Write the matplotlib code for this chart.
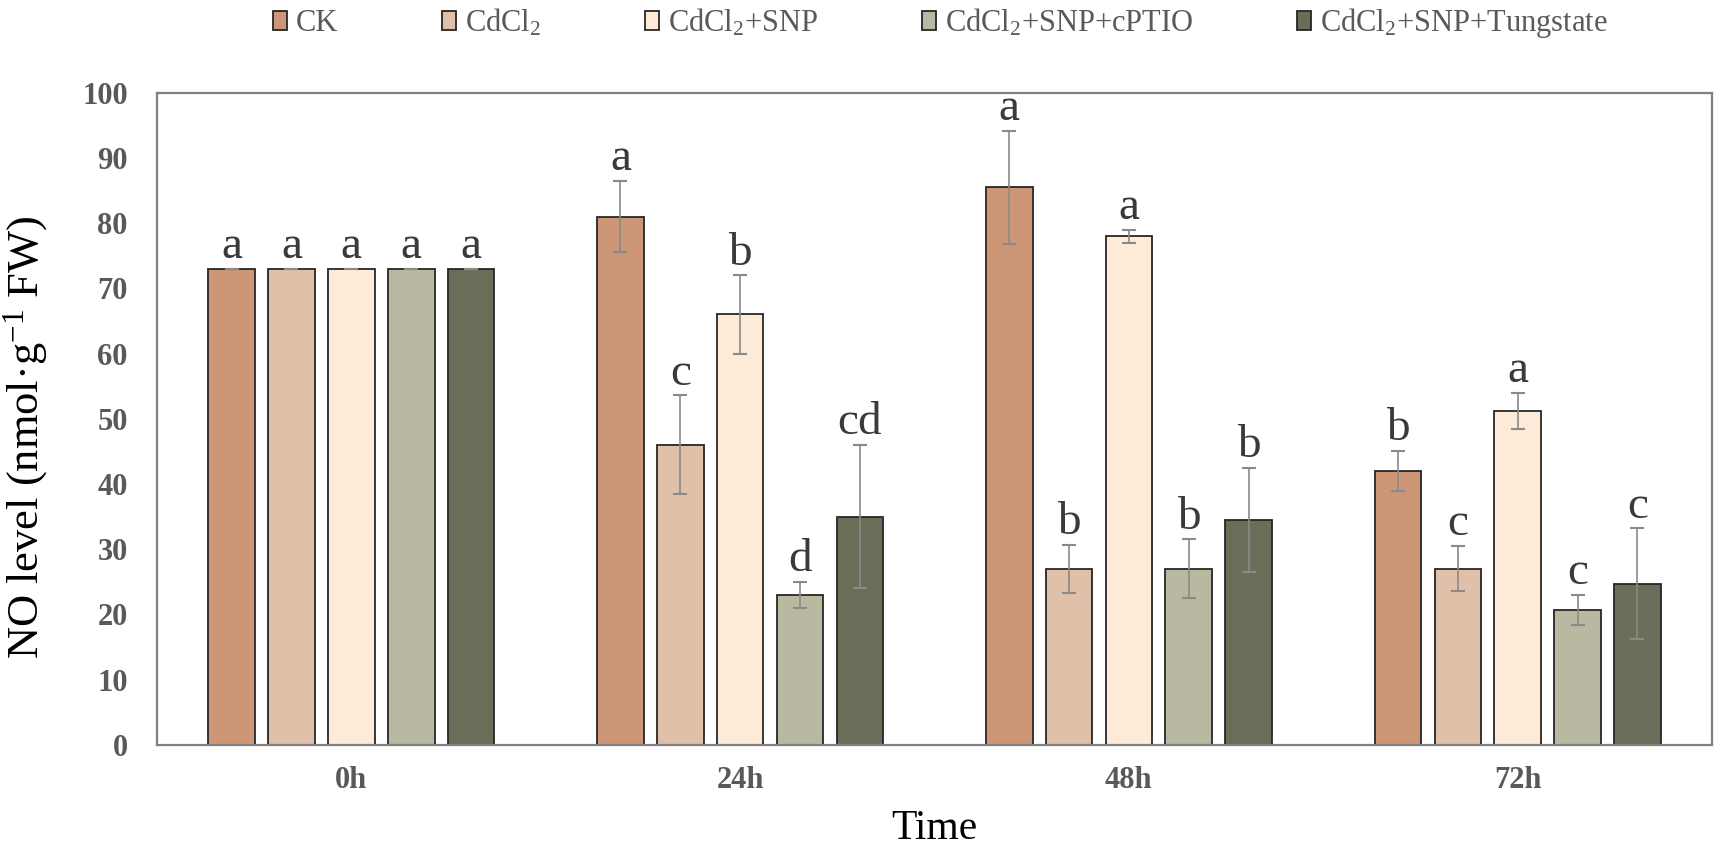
import numpy as np
import matplotlib
matplotlib.use("Agg")
import matplotlib.pyplot as plt

plt.rcParams['font.family'] = ['Liberation Serif', 'DejaVu Serif']
plt.rcParams['mathtext.fontset'] = 'custom'
plt.rcParams['mathtext.rm'] = 'Liberation Serif'
plt.rcParams['mathtext.it'] = 'Liberation Serif'

times = ['0h', '24h', '48h', '72h']
treatments = ['CK', 'CdCl$_2$', 'CdCl$_2$+SNP', 'CdCl$_2$+SNP+cPTIO', 'CdCl$_2$+SNP+Tungstate']
colors = ['#CD9677', '#E0C0A8', '#FDEBD8', '#B9B8A0', '#6A6E58']

# NO level per treatment, one value per time point
ck = [73, 81, 85.5, 42]
cd = [73, 46, 27, 27]
cd_snp = [73, 66, 78, 51.2]
cd_snp_cptio = [73, 23, 27, 20.7]
cd_snp_tung = [73, 35, 34.5, 24.7]

ck_err = [0, 5.5, 8.7, 3.1]
cd_err = [0, 7.6, 3.7, 3.5]
cd_snp_err = [0, 6.0, 1.0, 2.8]
cd_snp_cptio_err = [0, 2.0, 4.5, 2.3]
cd_snp_tung_err = [0, 11.0, 8.0, 8.5]

ck_sig = ['a', 'a', 'a', 'b']
cd_sig = ['a', 'c', 'b', 'c']
cd_snp_sig = ['a', 'b', 'a', 'a']
cd_snp_cptio_sig = ['a', 'd', 'b', 'c']
cd_snp_tung_sig = ['a', 'cd', 'b', 'c']

means = [ck, cd, cd_snp, cd_snp_cptio, cd_snp_tung]
errs = [ck_err, cd_err, cd_snp_err, cd_snp_cptio_err, cd_snp_tung_err]
sigs = [ck_sig, cd_sig, cd_snp_sig, cd_snp_cptio_sig, cd_snp_tung_sig]

fig = plt.figure(figsize=(17.19, 8.56), dpi=100)
ax = fig.add_axes([0.0913, 0.130, 0.9047, 0.7617])

x = np.arange(len(times))
width = 0.12
step = 0.154
for i in range(len(treatments)):
    pos = x + (i - 2) * step
    ax.bar(pos, means[i], width, color=colors[i], edgecolor='#262626',
           linewidth=1.3, label=treatments[i], zorder=2)
    ax.errorbar(pos, means[i], yerr=errs[i], fmt='none', ecolor='#8a8a8a',
                elinewidth=1.2, capsize=5, capthick=1.5, zorder=3)
    for p, m, e, s in zip(pos, means[i], errs[i], sigs[i]):
        ax.text(p, m + e + 1.6, s, ha='center', va='baseline',
                fontsize=34, color='#3a3a3a')

ax.set_xlim(-0.5, 3.5)
ax.set_ylim(0, 100)
ax.set_yticks(range(0, 101, 10))
ax.set_xticks(x)
ax.set_xticklabels(times)
ax.tick_params(axis='both', length=0, labelsize=22, labelcolor='#595959')
ax.tick_params(axis='x', pad=15)
ax.tick_params(axis='y', pad=21)
for lab in ax.get_xticklabels() + ax.get_yticklabels():
    lab.set_fontweight('bold')
for sp in ax.spines.values():
    sp.set_color('#808080')
    sp.set_linewidth(1.6)

ax.set_ylabel('NO level (nmol·g$^{-1}$ FW)', fontsize=32)
ax.yaxis.set_label_coords(-0.069, 0.472)
ax.set_xlabel('Time', fontsize=30)
ax.xaxis.set_label_coords(0.5, -0.0997)

fig.legend(loc='upper center', bbox_to_anchor=(0.547, 1.025), ncol=5,
           frameon=False, fontsize=22, handlelength=0.45, handleheight=0.6,
           handletextpad=0.3, columnspacing=3.4, labelcolor='#595959')

fig.savefig('out.png', dpi=100)
